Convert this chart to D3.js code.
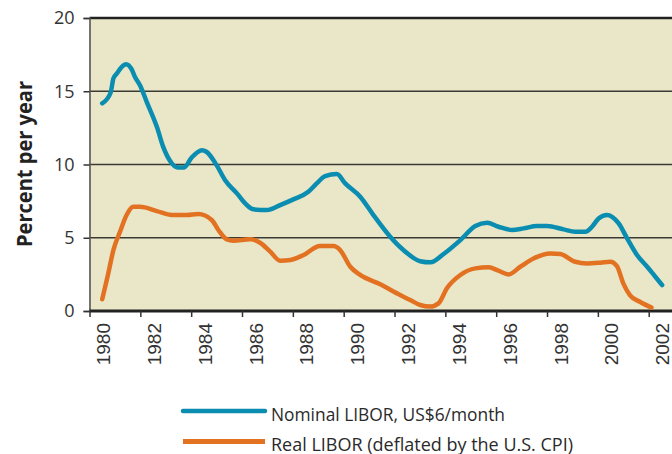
<!DOCTYPE html>
<html>
<head>
<meta charset="utf-8">
<script src="https://cdn.jsdelivr.net/npm/d3@7"></script>
<style>
	body { margin: 0; background: #fff; }
	svg { display: block; }
</style>
</head>
<body>
<svg id="chart" width="672" height="454"></svg>
<script>
// year positions and values
var nominalYears = [1980.5, 1980.83, 1980.94, 1981.07, 1981.27, 1981.44, 1981.66, 1981.79, 1981.99, 1982.25, 1982.65, 1982.9, 1983.24, 1983.46, 1983.72, 1984.02, 1984.42, 1984.6, 1985.0, 1985.33, 1985.8, 1986.19, 1986.45, 1986.98, 1987.5, 1988.02, 1988.61, 1988.94, 1989.27, 1989.73, 1990.06, 1990.65, 1991.17, 1991.83, 1992.35, 1993.01, 1993.41, 1993.93, 1994.59, 1995.18, 1995.64, 1996.09, 1996.62, 1997.08, 1997.6, 1998.0, 1998.65, 1999.11, 1999.51, 1999.77, 2000.03, 2000.36, 2000.56, 2000.82, 2001.15, 2001.54, 2001.94, 2002.26, 2002.53];
var nominalValues = [14.17, 14.9, 15.87, 16.2, 16.67, 16.85, 16.49, 15.98, 15.4, 14.28, 12.57, 11.2, 10.08, 9.8, 9.8, 10.48, 10.98, 10.87, 9.96, 8.94, 8.03, 7.23, 6.94, 6.89, 7.23, 7.62, 8.14, 8.71, 9.21, 9.35, 8.71, 7.8, 6.55, 5.07, 4.16, 3.4, 3.32, 3.89, 4.84, 5.8, 6.02, 5.75, 5.53, 5.64, 5.8, 5.8, 5.57, 5.41, 5.41, 5.75, 6.32, 6.55, 6.43, 5.98, 4.96, 3.82, 3.02, 2.34, 1.77];

var realYears = [1980.5, 1980.74, 1980.94, 1981.2, 1981.46, 1981.72, 1981.99, 1982.65, 1983.24, 1983.83, 1984.28, 1984.81, 1985.07, 1985.4, 1985.66, 1986.32, 1986.71, 1987.11, 1987.5, 1987.9, 1988.42, 1989.07, 1989.6, 1989.86, 1990.26, 1990.65, 1991.44, 1992.22, 1992.62, 1993.01, 1993.41, 1993.73, 1994.06, 1994.59, 1995.18, 1995.7, 1996.09, 1996.49, 1996.95, 1997.47, 1998.13, 1998.52, 1999.11, 1999.57, 2000.1, 2000.49, 2000.75, 2001.0, 2001.26, 2001.65, 2002.11];
var realValues = [0.8, 2.57, 4.16, 5.41, 6.55, 7.11, 7.11, 6.82, 6.55, 6.55, 6.62, 6.21, 5.53, 4.89, 4.8, 4.89, 4.66, 4.05, 3.43, 3.48, 3.82, 4.43, 4.43, 4.16, 3.02, 2.46, 1.82, 1.09, 0.75, 0.41, 0.3, 0.52, 1.55, 2.46, 2.91, 2.98, 2.75, 2.5, 3.02, 3.59, 3.93, 3.89, 3.36, 3.25, 3.3, 3.36, 3.07, 1.89, 1.09, 0.63, 0.23];

var yearTicks = [1980, 1982, 1984, 1986, 1988, 1990, 1992, 1994, 1996, 1998, 2000, 2002];
var valueTicks = [0, 5, 10, 15, 20];
var seriesLabels = ["Nominal LIBOR, US$6/month", "Real LIBOR (deflated by the U.S. CPI)"];
var seriesColors = ["#0a8db0", "#e27222"];

var svg = d3.select("#chart");
var plotLeft = 89.5, plotRight = 672, plotTop = 18, plotBottom = 311;

var x = d3.scaleLinear().domain([1980, 2002]).range([plotLeft, 648.7]);
var y = d3.scaleLinear().domain([0, 20]).range([plotBottom, plotTop]);

// plot background
svg.append("rect")
	.attr("x", plotLeft)
	.attr("y", plotTop)
	.attr("width", plotRight - plotLeft)
	.attr("height", plotBottom - plotTop)
	.attr("fill", "#eae7c9");

// gridlines
svg.append("g")
	.selectAll("line")
	.data(valueTicks.filter(function(v) { return v > 0 && v < 20; }))
	.join("line")
	.attr("x1", plotLeft)
	.attr("x2", plotRight)
	.attr("y1", function(d) { return y(d); })
	.attr("y2", function(d) { return y(d); })
	.attr("stroke", "#3a3a34")
	.attr("stroke-width", 1.6);

// top border
svg.append("line")
	.attr("x1", plotLeft).attr("x2", plotRight)
	.attr("y1", y(20)).attr("y2", y(20))
	.attr("stroke", "#222")
	.attr("stroke-width", 2.5);

// y axis
var yAxis = svg.append("g")
	.attr("transform", "translate(" + plotLeft + ",0)")
	.call(d3.axisLeft(y).tickValues(valueTicks).tickSize(6).tickPadding(9));
yAxis.select(".domain").attr("stroke", "#555").attr("stroke-width", 1.6);
yAxis.selectAll(".tick line").attr("stroke", "#333").attr("stroke-width", 1.5);
yAxis.selectAll(".tick text")
	.attr("fill", "#333")
	.style("font-family", "'Open Sans', sans-serif")
	.style("font-size", "18px");

// x axis
var xAxis = svg.append("g")
	.attr("transform", "translate(0," + plotBottom + ")")
	.call(d3.axisBottom(x).tickValues(yearTicks).tickFormat(d3.format("d")).tickSize(6).tickSizeOuter(0));
xAxis.select(".domain")
	.attr("d", "M" + plotLeft + ",0H" + plotRight)
	.attr("stroke", "#222")
	.attr("stroke-width", 3);
xAxis.selectAll(".tick line").attr("stroke", "#333").attr("stroke-width", 1.5);
xAxis.selectAll(".tick text")
	.attr("fill", "#333")
	.attr("text-anchor", "end")
	.attr("transform", "translate(20,12) rotate(-90)")
	.attr("x", 0)
	.attr("y", 0)
	.attr("dy", 0)
	.style("font-family", "'Liberation Sans', Arial, sans-serif")
	.style("font-size", "19px");

// axis title
svg.append("text")
	.attr("transform", "translate(32,164) rotate(-90)")
	.attr("text-anchor", "middle")
	.attr("fill", "#222")
	.style("font-family", "'Open Sans', sans-serif")
	.style("font-weight", "bold")
	.style("font-size", "21px")
	.attr("textLength", 166)
	.attr("lengthAdjust", "spacingAndGlyphs")
	.text("Percent per year");

// lines
var line = d3.line()
	.x(function(d) { return x(d[0]); })
	.y(function(d) { return y(d[1]); })
	.curve(d3.curveMonotoneX);

var series = [
	d3.zip(nominalYears, nominalValues),
	d3.zip(realYears, realValues)
];

svg.append("g")
	.selectAll("path")
	.data(series)
	.join("path")
	.attr("d", line)
	.attr("fill", "none")
	.attr("stroke", function(d, i) { return seriesColors[i]; })
	.attr("stroke-width", 4.5)
	.attr("stroke-linejoin", "round")
	.attr("stroke-linecap", "round");

// legend
var legendY = [411, 441.5];
var legendLengths = [234, 302];
var legend = svg.append("g")
	.selectAll("g")
	.data(seriesLabels)
	.join("g")
	.attr("transform", function(d, i) { return "translate(0," + legendY[i] + ")"; });

legend.append("line")
	.attr("x1", 183)
	.attr("x2", 265)
	.attr("stroke", function(d, i) { return seriesColors[i]; })
	.attr("stroke-width", function(d, i) { return i == 0 ? 4.5 : 5; })
	.attr("stroke-linecap", function(d, i) { return i == 0 ? "round" : "butt"; });

legend.append("text")
	.attr("x", 271)
	.attr("y", 9.5)
	.attr("fill", "#2a2a2a")
	.style("font-family", "'Open Sans', sans-serif")
	.style("font-size", "18px")
	.attr("textLength", function(d, i) { return legendLengths[i]; })
	.attr("lengthAdjust", "spacingAndGlyphs")
	.text(function(d) { return d; });
</script>
</body>
</html>
